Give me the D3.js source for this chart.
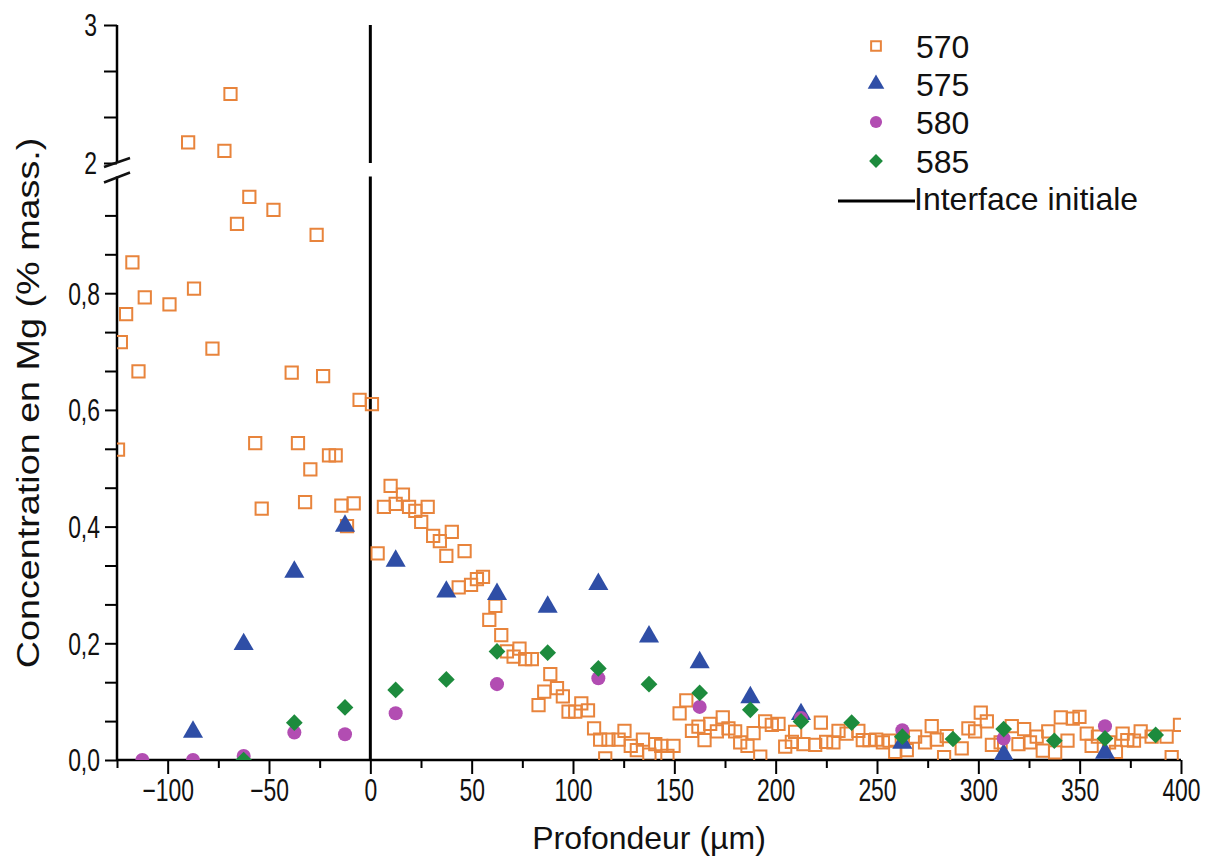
<!DOCTYPE html>
<html><head><meta charset="utf-8">
<script src="https://cdn.jsdelivr.net/npm/d3@7"></script>
<style>
html,body{margin:0;padding:0;background:#fff;}
svg{display:block;font-family:"Liberation Sans",Arial,sans-serif;}
</style></head>
<body>
<svg id="chart" width="1212" height="861"></svg>
<script>
// ---------- DATA ----------
const seriesNames = ["570", "575", "580", "585"];
const lineLabel = "Interface initiale";
const xTitle = "Profondeur (µm)";
const yTitle = "Concentration en Mg (% mass.)";

// 570 : [depth, concentration]
const depth570 = [-124.5,-123.1,-120.5,-117.4,-114.4,-111.3,-99.1,-89.9,-87.0,-77.9,-72.0,-69.0,-65.8,-59.7,-56.8,-53.6,-47.8,-38.8,-35.7,-32.2,-29.6,-26.5,-23.3,-20.4,-17.1,-14.3,-11.5,-8.2,-5.3,0.8,
 3.6,6.7,10.0,12.5,16.1,19.1,22.2,25.1,28.3,31.0,34.3,37.5,40.2,43.6,46.5,49.7,52.6,55.6,58.7,61.7,64.6,67.4,70.7,73.6,76.4,79.7,83.0,85.8,88.8,92.1,
 95.0,97.8,101.1,104.1,107.4,110.4,113.4,115.9,117.5,122.5,125.4,128.5,131.5,134.5,137.7,140.6,143.5,146.6,149.6,152.6,155.9,158.7,161.9,164.9,167.7,171.0,173.9,176.7,180.0,182.5,
 186.1,189.1,192.4,194.8,198.1,201.4,204.7,208.0,209.6,213.7,219.5,222.3,224.9,228.5,231.0,235.0,240.8,243.0,246.3,249.6,252.9,256.2,259.0,264.7,268.8,273.7,277.0,279.5,283.1,284.4,
 291.8,295.1,298.4,301.2,304.2,306.7,311.0,316.5,319.8,322.6,325.5,328.8,331.8,334.5,337.9,340.7,344.0,346.6,349.9,353.5,355.9,359.0,364.5,367.9,371.2,373.5,376.8,380.1,385.5,392.9,395.4,399.5];
const conc570 = [0.532,0.716,0.764,0.853,0.666,0.793,0.781,2.15,0.808,0.705,2.087,2.50,0.919,0.965,0.543,0.431,0.943,0.664,0.543,0.442,0.498,0.900,0.658,0.522,0.522,0.436,0.401,0.440,0.617,0.610,
 0.354,0.434,0.470,0.439,0.455,0.434,0.427,0.408,0.434,0.384,0.375,0.350,0.391,0.296,0.358,0.300,0.310,0.314,0.240,0.264,0.214,0.186,0.177,0.191,0.173,0.173,0.094,0.117,0.147,0.123,
 0.109,0.083,0.083,0.097,0.085,0.054,0.035,0.003,0.035,0.035,0.050,0.024,0.017,0.035,0.009,0.027,0.024,0.007,0.024,0.080,0.102,0.050,0.057,0.034,0.062,0.049,0.073,0.054,0.049,0.030,
 0.024,0.046,0.006,0.066,0.060,0.062,0.023,0.031,0.048,0.027,0.026,0.064,0.031,0.030,0.050,0.045,0.050,0.034,0.034,0.035,0.030,0.033,0.014,0.017,0.040,0.030,0.058,0.035,0.005,0.041,
 0.020,0.054,0.049,0.081,0.066,0.026,0.030,0.058,0.027,0.053,0.030,0.040,0.016,0.049,0.013,0.073,0.033,0.071,0.074,0.045,0.024,0.040,0.030,0.014,0.045,0.034,0.033,0.049,0.040,0.040,0.005,0.060];

const depth575 = [-87.5,-62.5,-37.5,-12.5,12.5,37.5,62.5,87.5,112.5,137.5,162.5,187.5,212.5,262.5,312.5,362.5];
const conc575  = [0.050,0.200,0.324,0.403,0.343,0.290,0.286,0.264,0.303,0.213,0.169,0.109,0.080,0.031,0.011,0.014];

const depth580 = [-112.5,-87.5,-62.5,-37.5,-12.5,12.5,62.5,112.5,162.5,212.5,262.5,312.5,362.5];
const conc580  = [0.000,0.000,0.007,0.047,0.044,0.080,0.130,0.140,0.091,0.072,0.051,0.037,0.058];

const depth585 = [-62.5,-37.5,-12.5,12.5,37.5,62.5,87.5,112.5,137.5,162.5,187.5,212.5,237.5,262.5,287.5,312.5,337.5,362.5,387.5];
const conc585  = [0.000,0.064,0.090,0.120,0.138,0.186,0.184,0.157,0.130,0.115,0.086,0.066,0.064,0.040,0.036,0.053,0.033,0.037,0.043];

const xTicks = d3.range(-125, 401, 25);
const yLowTicks = d3.range(0, 15).map(i => i * 0.2 / 3);
const yUpTicks = [2, 2 + 1/3, 2 + 2/3, 3];
const interfaceDepth = 0;

// ---------- LAYOUT ----------
const svg = d3.select("#chart");
const X0 = 117, X1 = 1181, Y0 = 760;
const x = d3.scaleLinear().domain([-125, 400]).range([X0, X1]);
const yLow = d3.scaleLinear().domain([0, 1]).range([Y0, 176.5]);
const yUp = d3.scaleLinear().domain([2, 3]).range([163, 25]);
const yPos = v => v >= 1.5 ? yUp(v) : yLow(v);

const colors = {"570": "#E8843C", "575": "#2F4EA6", "580": "#B24DB2", "585": "#1D8B3D"};
const TICKFONT = 31, SX = 0.74;
const fmt = v => d3.format(".1f")(v).replace(".", ",");

// clip
svg.append("defs").append("clipPath").attr("id", "plotclip")
  .append("rect").attr("x", X0).attr("y", 0).attr("width", X1 - X0).attr("height", Y0);

// ---------- AXES ----------
const gx = svg.append("g").attr("transform", `translate(0,${Y0})`)
  .call(d3.axisBottom(x).tickValues(xTicks).tickSize(14).tickPadding(6)
        .tickFormat(v => (v % 50 === 0) ? d3.format("d")(v) : ""));
gx.select(".domain").attr("stroke-width", 2.5).attr("d", `M${X0},0H${X1}`);
gx.selectAll(".tick line").attr("stroke-width", 2).attr("y2", d => d % 50 === 0 ? 14 : 8);
gx.selectAll(".tick text").attr("font-size", TICKFONT).attr("font-family", "Liberation Sans, Arial, sans-serif")
  .attr("fill", "#111").attr("y", 0).attr("dy", 0)
  .attr("transform", "translate(0,41) scale(" + SX + ",1)");

const gyl = svg.append("g").attr("transform", `translate(${X0},0)`)
  .call(d3.axisLeft(yLow).tickValues(yLowTicks).tickSize(12).tickPadding(5)
        .tickFormat((v, i) => i % 3 === 0 ? fmt(v) : ""));
gyl.select(".domain").attr("stroke-width", 2.5).attr("d", `M0,${Y0}V${yLow(1)}`);
gyl.selectAll(".tick line").attr("stroke-width", 2);
gyl.selectAll(".tick text").attr("font-size", TICKFONT).attr("fill", "#111")
  .attr("font-family", "Liberation Sans, Arial, sans-serif")
  .attr("x", 0).attr("dy", "0.35em").attr("transform", "translate(-17,0) scale(" + SX + ",1)");

const gyu = svg.append("g").attr("transform", `translate(${X0},0)`)
  .call(d3.axisLeft(yUp).tickValues(yUpTicks).tickSize(13).tickPadding(5)
        .tickFormat(v => (Math.abs(v - Math.round(v)) < 1e-9) ? d3.format("d")(v) : ""));
gyu.select(".domain").attr("stroke-width", 2.5).attr("d", `M0,${yUp(3)}V${yUp(2)}`);
gyu.selectAll(".tick line").attr("stroke-width", 2);
gyu.selectAll(".tick text").attr("font-size", TICKFONT).attr("fill", "#111")
  .attr("font-family", "Liberation Sans, Arial, sans-serif")
  .attr("x", 0).attr("dy", "0.35em").attr("transform", "translate(-20,0) scale(" + SX + ",1)");

// break marks
const brk = svg.append("g").attr("stroke", "#111").attr("stroke-width", 2.5).attr("fill", "none");
brk.append("line").attr("x1", X0 - 13).attr("y1", yUp(2) + 4).attr("x2", X0 + 13).attr("y2", yUp(2) - 5);
brk.append("line").attr("x1", X0 - 13).attr("y1", yLow(1) + 6).attr("x2", X0 + 13).attr("y2", yLow(1) - 4);

// interface line
const xi = x(interfaceDepth);
svg.append("line").attr("x1", xi).attr("x2", xi).attr("y1", yUp(3)).attr("y2", yUp(2))
  .attr("stroke", "#000").attr("stroke-width", 3);
svg.append("line").attr("x1", xi).attr("x2", xi).attr("y1", yLow(1)).attr("y2", Y0)
  .attr("stroke", "#000").attr("stroke-width", 3);

// ---------- MARKERS ----------
const plot = svg.append("g").attr("clip-path", "url(#plotclip)");
const sq = d3.symbol().type(d3.symbolSquare).size(150)();
const tri = d3.symbol().type(d3.symbolTriangle).size(175)();
const circ = d3.symbol().type(d3.symbolCircle).size(155)();
const dia = d3.symbol().type(d3.symbolSquare).size(140)();

plot.append("g").selectAll("path").data(d3.zip(depth570, conc570)).join("path")
  .attr("d", sq).attr("transform", d => `translate(${x(d[0])},${yPos(d[1])})`)
  .attr("fill", "none").attr("stroke", colors["570"]).attr("stroke-width", 2);
plot.append("g").selectAll("path").data(d3.zip(depth575, conc575)).join("path")
  .attr("d", tri).attr("transform", d => `translate(${x(d[0])},${yPos(d[1]) + 1})`)
  .attr("fill", colors["575"]);
plot.append("g").selectAll("path").data(d3.zip(depth580, conc580)).join("path")
  .attr("d", circ).attr("transform", d => `translate(${x(d[0])},${yPos(d[1])})`)
  .attr("fill", colors["580"]);
plot.append("g").selectAll("path").data(d3.zip(depth585, conc585)).join("path")
  .attr("d", dia).attr("transform", d => `translate(${x(d[0])},${yPos(d[1])}) rotate(45)`)
  .attr("fill", colors["585"]);

// ---------- LEGEND ----------
const leg = svg.append("g");
const legSyms = [
  d3.symbol().type(d3.symbolSquare).size(95)(),
  d3.symbol().type(d3.symbolTriangle).size(120)(),
  d3.symbol().type(d3.symbolCircle).size(115)(),
  d3.symbol().type(d3.symbolSquare).size(95)()
];
const legY = [46, 84, 122, 161];
seriesNames.forEach((s, i) => {
  const p = leg.append("path").attr("d", legSyms[i])
    .attr("transform", `translate(876,${legY[i]})` + (i === 3 ? " rotate(45)" : ""));
  if (i === 0) p.attr("fill", "none").attr("stroke", colors[s]).attr("stroke-width", 2);
  else p.attr("fill", colors[s]);
  leg.append("text").attr("x", 916).attr("y", legY[i] + 12).attr("font-size", 32).attr("fill", "#111").text(s);
});
leg.append("line").attr("x1", 838).attr("x2", 915).attr("y1", 201).attr("y2", 201)
  .attr("stroke", "#000").attr("stroke-width", 3);
leg.append("text").attr("x", 914).attr("y", 210).attr("font-size", 32).attr("fill", "#111").text(lineLabel);

// ---------- TITLES ----------
svg.append("text").attr("x", 649).attr("y", 849).attr("text-anchor", "middle")
  .attr("font-size", 32).attr("fill", "#111").text(xTitle);
svg.append("text").attr("transform", "translate(39,403) rotate(-90) scale(1.18,1)").attr("text-anchor", "middle")
  .attr("font-size", 32).attr("fill", "#111").text(yTitle);
</script>
</body></html>
